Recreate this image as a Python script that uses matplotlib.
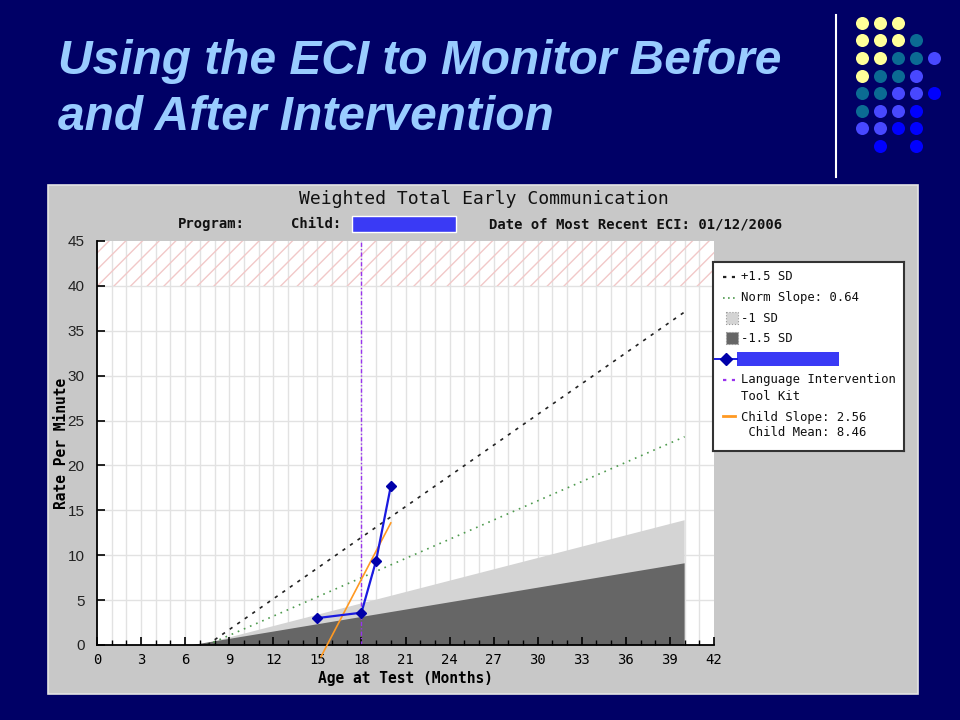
import matplotlib
matplotlib.use("Agg")
import matplotlib.pyplot as plt
from matplotlib.patches import Rectangle

# --- chart data ---
months_ticks = list(range(0, 43, 3))
rate_ticks = list(range(0, 46, 5))

plus_sd_x = [7.5, 40]
plus_sd_y = [0, 37.1]
norm_x = [7.5, 40]
norm_y = [0, 23.2]
minus1_x = [7.0, 40, 40]
minus1_y = [0, 13.9, 0]
minus15_x = [6.5, 40, 40]
minus15_y = [0, 9.1, 0]

child_age = [15, 18, 19, 20]
child_rate = [3.0, 3.6, 9.4, 17.7]
slope_x = [15.25, 20.0]
slope_y = [-1.3, 13.6]
intervention_month = 18

legend_labels = ["+1.5 SD", "Norm Slope: 0.64", "-1 SD", "-1.5 SD", "",
                 "Language Intervention\nTool Kit", "Child Slope: 2.56\n Child Mean: 8.46"]

# decorative dot grid on the slide (colour codes per row)
dot_rows = ["YYY..", "YYYT.", "YYTTM", "YTTM.", "TTMMB", "TMMB.", "MMBB.", ".B.B."]
dot_colors = {"Y": "#FFFF99", "T": "#0B6B93", "M": "#4848FF", "B": "#0000FF"}

NAVY = "#000066"
MONO = "DejaVu Sans Mono"

fig = plt.figure(figsize=(9.6, 7.2), dpi=100, facecolor=NAVY)

# background layer in pixel coordinates
bg = fig.add_axes([0, 0, 1, 1])
bg.set_xlim(0, 960)
bg.set_ylim(720, 0)
bg.axis("off")

bg.text(58, 61, "Using the ECI to Monitor Before", color="#99CCFF", fontsize=34.5,
        family="Liberation Sans", weight="bold", style="italic", va="center")
bg.text(58, 118, "and After Intervention", color="#99CCFF", fontsize=34.5,
        family="Liberation Sans", weight="bold", style="italic", va="center")
bg.plot([836, 836], [15, 177], color="white", lw=1.5)

for r, row in enumerate(dot_rows):
    for c, code in enumerate(row):
        if code == ".":
            continue
        bg.scatter(862 + c * 18, 22.7 + r * 17.6, s=88, color=dot_colors[code], lw=0)

bg.add_patch(Rectangle((48, 185), 870, 509, facecolor="#C8C8C8", edgecolor="#E4E4E4", lw=1.2))
bg.text(484, 199, "Weighted Total Early Communication", family=MONO, fontsize=13,
        ha="center", va="center", color="#111111")
bg.text(178, 224, "Program:", family=MONO, fontsize=10, weight="bold", va="center", color="#111111")
bg.text(291, 224, "Child:", family=MONO, fontsize=10, weight="bold", va="center", color="#111111")
bg.add_patch(Rectangle((352, 216), 104, 16, facecolor="#3A3AF5", edgecolor="white", lw=1))
bg.text(489, 224, "Date of Most Recent ECI: 01/12/2006", family=MONO, fontsize=10,
        weight="bold", va="center", color="#111111")

# main plot area
ax = fig.add_axes([97 / 960, 75 / 720, 617 / 960, 404 / 720])
ax.set_facecolor("white")
ax.set_xlim(0, 42)
ax.set_ylim(0, 45)

for m in range(1, 42):
    ax.axvline(m, color="#E2E2E2", lw=1, zorder=0)
for v in rate_ticks[1:-1]:
    ax.axhline(v, color="#E2E2E2", lw=1, zorder=0)

ax.fill_between([0, 42], 40, 45, facecolor="none", edgecolor="#F2C8C8", hatch="//", lw=0, zorder=0.5)

ax.fill(minus1_x, minus1_y, color="#D4D4D4", lw=0, zorder=1)
ax.fill(minus15_x, minus15_y, color="#666666", lw=0, zorder=1.1)

ax.plot(plus_sd_x, plus_sd_y, color="#222222", lw=1.2, ls=(0, (2, 3.5)), zorder=2)
ax.plot(norm_x, norm_y, color="#4E9A4E", lw=1.2, ls=(0, (1, 3)), zorder=2)
ax.plot([intervention_month, intervention_month], [0, 45], color="#9933EE", lw=1,
        ls=(0, (3, 1.5, 1, 1.5)), zorder=2)
ax.plot(child_age, child_rate, color="#1A1AE0", lw=1.6, marker="D", ms=5.5,
        mfc="#0000AA", mec="#0000AA", zorder=4)
ax.plot(slope_x, slope_y, color="#FF9922", lw=1.2, zorder=3, clip_on=False)

for side in ["top", "right"]:
    ax.spines[side].set_visible(False)
for side in ["left", "bottom"]:
    ax.spines[side].set_color("black")
    ax.spines[side].set_linewidth(1.3)

ax.set_xticks(months_ticks)
ax.set_xticks(range(0, 43), minor=True)
ax.set_yticks(rate_ticks)
ax.tick_params(axis="x", which="major", direction="in", length=6, width=1.2, pad=6, labelsize=10)
ax.tick_params(axis="x", which="minor", direction="in", length=3.5, width=1)
ax.tick_params(axis="y", direction="in", length=6, width=1.2, pad=9, labelsize=11)
for lab in ax.get_xticklabels():
    lab.set_family(MONO)
for lab in ax.get_yticklabels():
    lab.set_family("Liberation Sans")
    lab.set_color("#222222")

ax.set_xlabel("Age at Test (Months)", family=MONO, fontsize=10.5, weight="bold")
ax.set_ylabel("Rate Per Minute", family=MONO, fontsize=10.5, weight="bold")
ax.xaxis.set_label_coords(0.5, -0.082)
ax.yaxis.set_label_coords(-0.058, 0.5)
ax.yaxis.label.set_va("center")
ax.xaxis.label.set_va("center")

# legend box drawn in its own pixel-coordinate axes
lg = fig.add_axes([713 / 960, (720 - 451) / 720, 191 / 960, 189 / 720])
lg.set_xlim(0, 191)
lg.set_ylim(189, 0)
lg.set_facecolor("white")
lg.set_xticks([])
lg.set_yticks([])
for sp in lg.spines.values():
    sp.set_color("#333333")
    sp.set_linewidth(1.5)

rows_y = [15, 36, 56, 76, 97, 126, 163]
tx = 28
lg.plot([10, 22], [rows_y[0]] * 2, color="#222222", lw=1.6, ls=(0, (1.5, 2.5)))
lg.plot([10, 22], [rows_y[1]] * 2, color="#4E9A4E", lw=1.2, ls=(0, (1, 2)))
lg.add_patch(Rectangle((13, rows_y[2] - 6), 12, 12, facecolor="#D4D4D4", edgecolor="#999999",
                       lw=0.8, ls=":"))
lg.add_patch(Rectangle((13, rows_y[3] - 6), 12, 12, facecolor="#666666", edgecolor="#999999",
                       lw=0.8, ls=":"))
lg.plot([0, 24], [rows_y[4]] * 2, color="#1A1AE0", lw=1.4, clip_on=False)
lg.plot([13], [rows_y[4]], marker="D", ms=6, color="#0000AA")
lg.add_patch(Rectangle((24, rows_y[4] - 7), 102, 14, facecolor="#3A3AF5", lw=0))
lg.plot([10, 22], [118] * 2, color="#9933EE", lw=1.6, ls=(0, (1.5, 2.5)))
lg.plot([10, 22], [154] * 2, color="#FF9922", lw=2)
for i, label in enumerate(legend_labels):
    if label:
        lg.text(tx, rows_y[i], label, family=MONO, fontsize=8.8, va="center",
                color="#111111", linespacing=1.3)

fig.savefig("out.png", dpi=100, facecolor=NAVY)
